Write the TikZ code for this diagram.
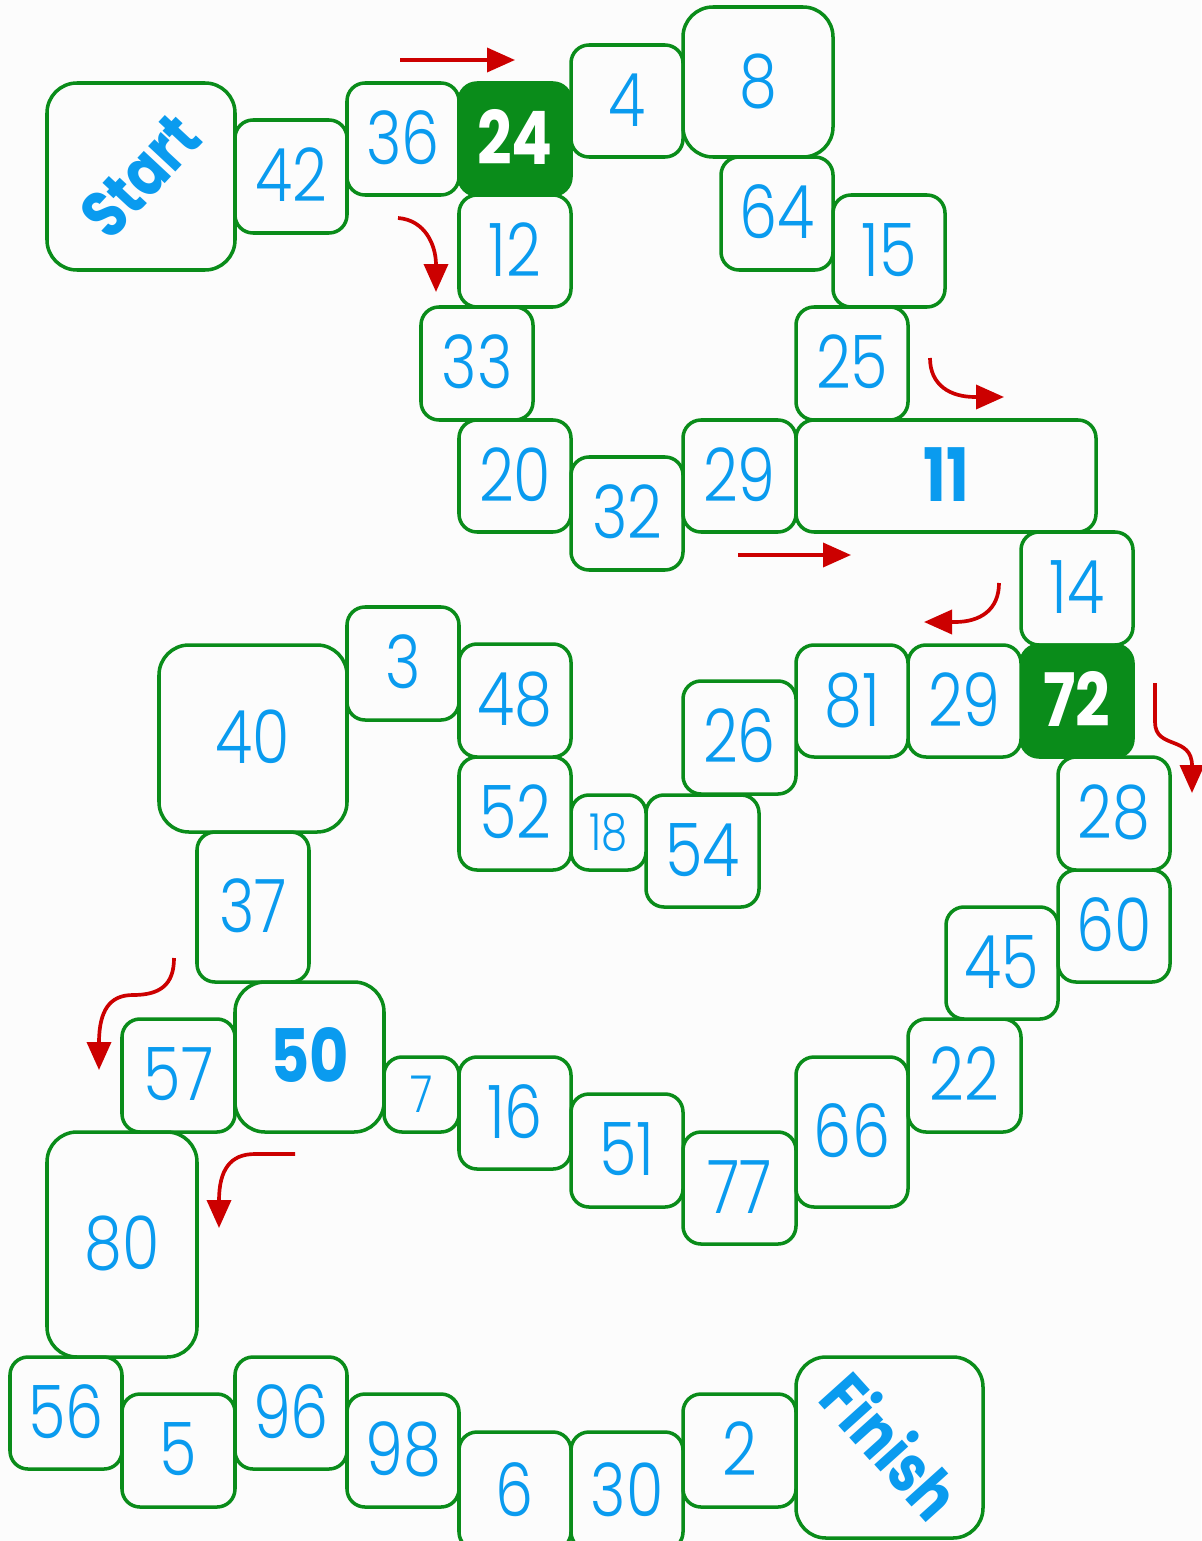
\documentclass[tikz,border=0pt]{standalone}
\usepackage{fontspec}
\setmainfont{Poppins}[FakeStretch=0.82,UprightFont=* Light,BoldFont=* Bold]
\usepackage{tikz}
\usetikzlibrary{arrows.meta}
\definecolor{board}{HTML}{FCFCFC}
\definecolor{rim}{HTML}{0A8C1A}
\definecolor{ink}{HTML}{0A9BEF}
\definecolor{hint}{HTML}{CC0000}
\tikzset{
  every node/.style={font=\fontsize{42}{42}\selectfont,text=ink,text height=29pt,text depth=0pt},
  spot/.style n args={4}{minimum width={(#3-#1)*0.02cm},minimum height={(#4-#2)*0.02cm},
                         at={({(#1+#3)/2},{(#2+#4)/2})}},
  cell/.style={draw=rim,fill=board,line width=2pt,rounded corners=0.36cm,inner sep=0pt},
  big/.style={cell,rounded corners=0.6cm},
  dark/.style={cell,fill=rim,text=white,font=\fontsize{42}{42}\selectfont\bfseries},
  key/.style={font=\fontsize{42}{42}\selectfont\bfseries},
  sign/.style={font=\fontsize{38}{38}\selectfont\bfseries,text height=26pt},
  tiny/.style={font=\fontsize{29}{29}\selectfont,text height=20pt},
  ar/.style={-{Triangle[length=0.56cm,width=0.48cm]},draw=hint,line width=2.1pt},
}

\begin{document}
\begin{tikzpicture}[x=0.02cm,y=-0.02cm]
\useasboundingbox (0,0) rectangle (1201,1541);
\fill[board] (0,0) rectangle (1201,1541);

% first loop
\node[big,spot={47}{83}{235}{270}] (start) {};
\node[sign,rotate=47] (startlbl) at (start.center) {Start};
\node[cell,spot={235}{120}{347}{233}] (n42) {42};
\node[cell,spot={347}{83}{459}{195}] (n36) {36};
\node[dark,spot={459}{83}{571}{195}] (n24) {24};
\node[cell,spot={571}{45}{683}{157}] (n4) {4};
\node[big,spot={683}{7}{833}{157}] (n8) {8};
\node[cell,spot={721}{157}{833}{270}] (n64) {64};
\node[cell,spot={833}{195}{945}{307}] (n15) {15};
\node[cell,spot={459}{195}{571}{307}] (n12) {12};
\node[cell,spot={421}{307}{533}{420}] (n33) {33};
\node[cell,spot={796}{307}{908}{420}] (n25) {25};
\node[cell,spot={459}{420}{571}{532}] (n20) {20};
\node[cell,spot={571}{457}{683}{570}] (n32) {32};
\node[cell,spot={683}{420}{796}{532}] (n29a) {29};
\node[cell,key,spot={796}{420}{1096}{532}] (n11) {11};

% right side and middle row
\node[cell,spot={1021}{532}{1133}{645}] (n14) {14};
\node[dark,spot={1021}{645}{1133}{757}] (n72) {72};
\node[cell,spot={908}{645}{1021}{757}] (n29b) {29};
\node[cell,spot={796}{645}{908}{757}] (n81) {81};
\node[cell,spot={683}{681}{796}{794}] (n26) {26};
\node[cell,spot={646}{795}{759}{907}] (n54) {54};
\node[cell,tiny,spot={571}{795}{646}{870}] (n18) {18};
\node[cell,spot={459}{757}{571}{870}] (n52) {52};
\node[cell,spot={459}{644}{571}{757}] (n48) {48};
\node[cell,spot={347}{607}{459}{720}] (n3) {3};
\node[big,spot={159}{645}{347}{832}] (n40) {40};
\node[cell,spot={197}{832}{309}{982}] (n37) {37};
\node[big,key,spot={235}{982}{384}{1132}] (n50) {50};
\node[cell,spot={122}{1019}{235}{1132}] (n57) {57};

% lower loop
\node[cell,tiny,spot={384}{1057}{459}{1132}] (n7) {7};
\node[cell,spot={459}{1057}{571}{1169}] (n16) {16};
\node[cell,spot={571}{1094}{683}{1207}] (n51) {51};
\node[cell,spot={683}{1132}{796}{1244}] (n77) {77};
\node[cell,spot={796}{1057}{908}{1207}] (n66) {66};
\node[cell,spot={908}{1019}{1021}{1132}] (n22) {22};
\node[cell,spot={946}{907}{1058}{1019}] (n45) {45};
\node[cell,spot={1058}{870}{1170}{982}] (n60) {60};
\node[cell,spot={1058}{757}{1170}{870}] (n28) {28};

% bottom row
\node[big,spot={47}{1132}{197}{1357}] (n80) {80};
\node[cell,spot={10}{1357}{122}{1469}] (n56) {56};
\node[cell,spot={122}{1394}{235}{1507}] (n5) {5};
\node[cell,spot={235}{1357}{347}{1469}] (n96) {96};
\node[cell,spot={347}{1394}{459}{1507}] (n98) {98};
\node[cell,spot={459}{1432}{571}{1550}] (n6) {6};
\node[cell,spot={571}{1432}{683}{1550}] (n30) {30};
\node[cell,spot={683}{1394}{796}{1507}] (n2) {2};
\node[big,spot={796}{1357}{983}{1538}] (finish) {};
\node[sign,rotate=-48] (finishlbl) at (finish.center) {Finish};

% direction hints
\draw[ar] (400,60) -- (515,60);
\draw[ar] (398,218) .. controls (425,220) and (436,245) .. (436,292);
\draw[ar] (930,358) .. controls (930,385) and (950,397) .. (975,397) -- (1004,397);
\draw[ar] (738,555) -- (851,555);
\draw[ar] (999,583) .. controls (999,610) and (980,622) .. (955,622) -- (924,622);
\draw[ar] (1155,683) -- (1155,722) .. controls (1155,750) and (1192,735) .. (1192,793);
\draw[ar] (174,958) .. controls (174,985) and (160,995) .. (133,995) .. controls (110,995) and (99,1010) .. (99,1070);
\draw[ar] (295,1154) -- (255,1154) .. controls (230,1154) and (219,1170) .. (219,1228);
\end{tikzpicture}
\end{document}
